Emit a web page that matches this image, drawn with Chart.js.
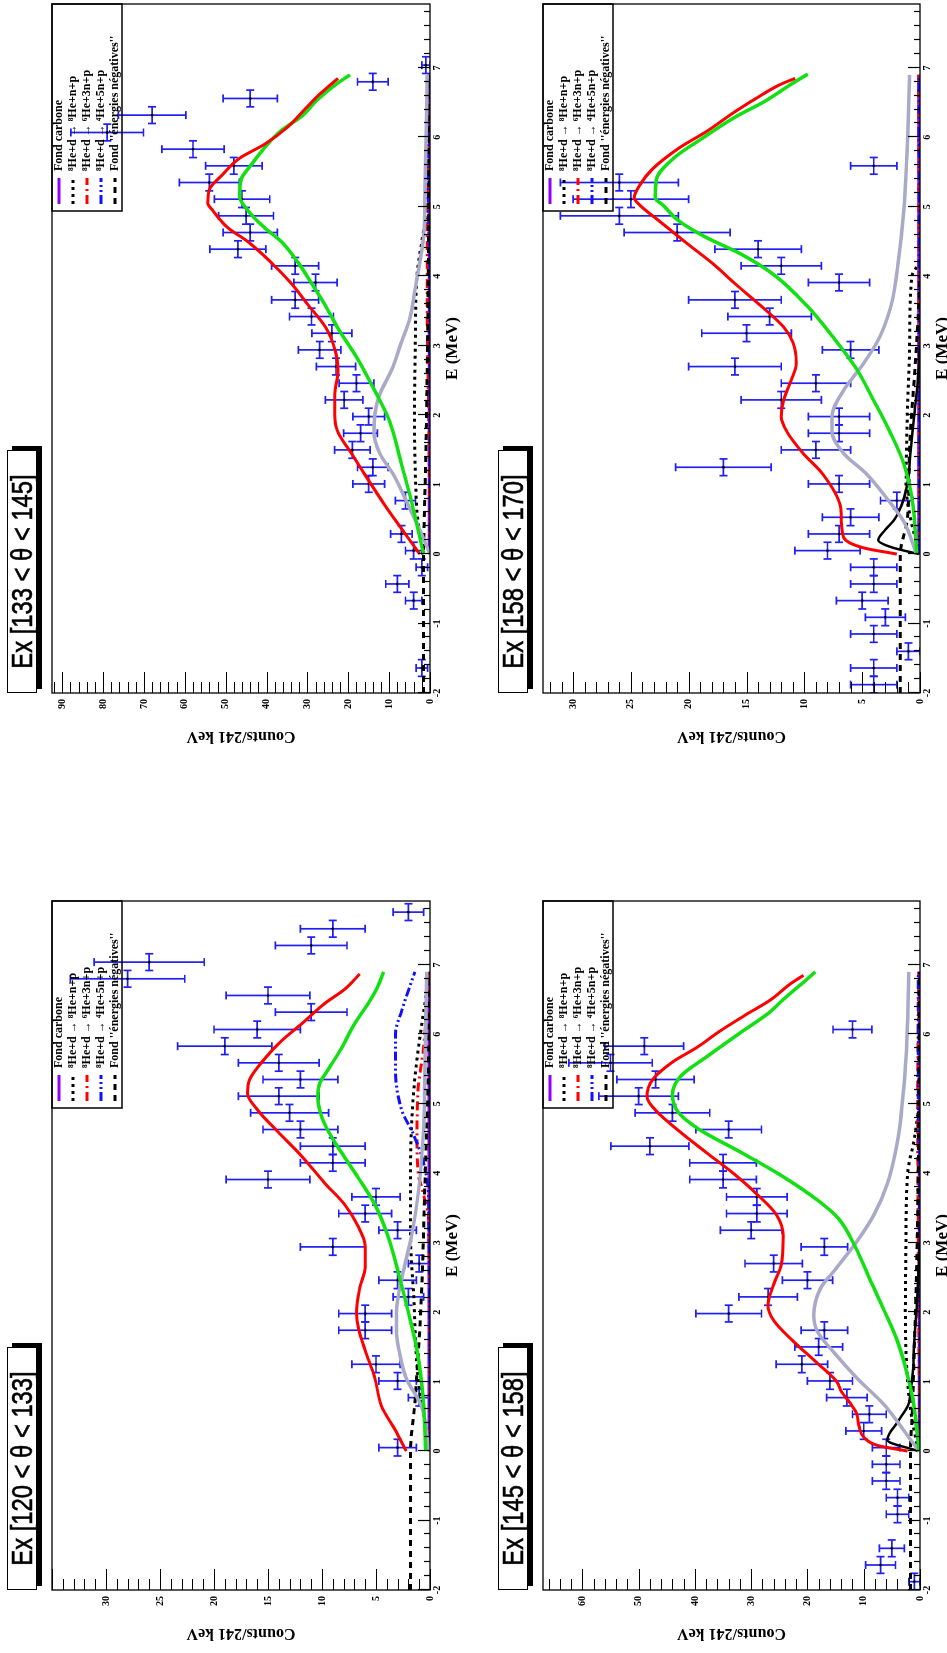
<!DOCTYPE html>
<html>
<head>
<meta charset="utf-8">
<script src="https://cdn.jsdelivr.net/npm/chart.js@4.4.0/dist/chart.umd.min.js"></script>
<style>
html, body { margin: 0; padding: 0; background: #fff; width: 947px; height: 1653px; overflow: hidden; }
#land { position: absolute; left: 0; top: 0; width: 1653px; height: 947px; transform-origin: 0 0; transform: translateY(1653px) rotate(-90deg); }
canvas { position: absolute; }
.title { position: absolute; width: 241px; height: 28px; border: 1px solid #000; background: #fff; box-shadow: 4px 5px 0 #000;
  font-family: "Liberation Sans", Arial, sans-serif; font-size: 29px; line-height: 29px; text-align: center; white-space: nowrap; overflow: hidden;
  -webkit-text-stroke: 0.6px #000; }
.title span { display: inline-block; transform: scaleX(0.82); }
</style>
</head>
<body>
<div id="land"></div>
<script>
// titres des 4 fenetres angulaires
const titles = ['Ex [120 < θ < 133]', 'Ex [133 < θ < 145]', 'Ex [145 < θ < 158]', 'Ex [158 < θ < 170]'];
const legendLabels = ['Fond carbone', '⁸He+d → ⁸He+n+p', '⁸He+d → ⁶He+3n+p', '⁸He+d → ⁴He+5n+p', "Fond ''énergies négatives''"];
const energyTicks = [-2, -1, 0, 1, 2, 3, 4, 5, 6, 7];
const countTicks_120_133 = [0, 5, 10, 15, 20, 25, 30];
const countTicks_133_145 = [0, 10, 20, 30, 40, 50, 60, 70, 80, 90];
const countTicks_145_158 = [0, 10, 20, 30, 40, 50, 60];
const countTicks_158_170 = [0, 5, 10, 15, 20, 25, 30];

// donnees (centre du bin en MeV, coups)
const energies_120_133 = [0.05, 0.77, 1.01, 1.25, 1.74, 1.98, 2.22, 2.46, 2.70, 2.94, 3.18, 3.42, 3.66, 3.91, 4.15, 4.39, 4.63, 4.87, 5.11, 5.35, 5.59, 5.83, 6.07, 6.32, 6.56, 6.80, 7.04, 7.28, 7.52, 7.76];
const counts_120_133 = [3, 1, 3, 5, 6, 6, 2, 3, 1, 9, 3, 6, 5, 15, 9, 9, 12, 13, 14, 12, 14, 19, 16, 11, 15, 28, 26, 11, 9, 2];
const energies_133_145 = [-1.64, -0.67, -0.43, -0.19, 0.05, 0.29, 0.77, 1.01, 1.25, 1.50, 1.74, 1.98, 2.22, 2.46, 2.70, 2.94, 3.18, 3.42, 3.66, 3.91, 4.15, 4.39, 4.63, 4.87, 5.11, 5.35, 5.59, 5.83, 6.07, 6.32, 6.56, 6.80, 7.04];
const counts_133_145 = [2, 4, 8, 2, 4, 7, 6, 15, 14, 19, 17, 15, 21, 18, 23, 27, 24, 29, 33, 28, 33, 47, 44, 45, 46, 54, 48, 58, 79, 68, 44, 14, 1];
const energies_145_158 = [-1.88, -1.64, -1.40, -0.91, -0.67, -0.43, -0.19, 0.05, 0.29, 0.53, 0.77, 1.01, 1.25, 1.50, 1.74, 1.98, 2.22, 2.46, 2.70, 2.94, 3.18, 3.42, 3.66, 3.91, 4.15, 4.39, 4.63, 4.87, 5.11, 5.35, 5.59, 5.83, 6.07];
const counts_145_158 = [1, 7, 5, 4, 4, 6, 6, 6, 10, 9, 13, 16, 21, 18, 17, 34, 27, 20, 26, 17, 30, 29, 29, 35, 35, 48, 34, 44, 50, 47, 55, 49, 12];
const energies_158_170 = [-1.88, -1.64, -1.40, -1.15, -0.91, -0.67, -0.43, -0.19, 0.05, 0.29, 0.53, 0.77, 1.01, 1.25, 1.50, 1.74, 1.98, 2.22, 2.46, 2.70, 2.94, 3.18, 3.42, 3.66, 3.91, 4.15, 4.39, 4.63, 4.87, 5.11, 5.35, 5.59];
const counts_158_170 = [4, 4, 1, 4, 3, 5, 4, 4, 8, 7, 6, 2, 7, 17, 9, 7, 7, 12, 9, 16, 6, 15, 13, 16, 7, 12, 14, 21, 26, 25, 26, 4];

// courbes [E, coups]
const total_120_133 = [[0,2.2],[0.3,3.2],[0.65,4.5],[1.05,5.1],[1.45,6],[1.75,6.6],[2.0,6.8],[2.35,6.5],[2.65,6.0],[2.95,6.0],[3.25,6.7],[3.55,7.9],[3.85,9.7],[4.25,11.9],[4.6,14.1],[4.9,15.9],[5.15,16.9],[5.35,16.7],[5.65,15.3],[5.9,13.8],[6.15,11.9],[6.45,9.7],[6.65,7.9],[6.87,6.5]];
const green_120_133 = [[0,0.4],[0.7,0.6],[1.45,1.2],[2.0,2.0],[2.55,2.9],[3.1,3.9],[3.55,5.1],[3.95,6.7],[4.3,8.2],[4.6,9.4],[4.85,10.1],[5.1,10.4],[5.3,10.2],[5.5,9.4],[5.8,8.2],[6.15,7.0],[6.45,5.7],[6.7,4.8],[6.9,4.3]];
const gray_120_133 = [[0,0.1],[0.65,0.8],[1.05,2.2],[1.4,2.8],[1.7,3.1],[2.0,3.1],[2.5,2.6],[3.1,1.7],[3.7,1.1],[4.6,0.6],[5.2,0.5],[6.9,0.3]];
const nnp_120_133 = [[0,0],[1.05,1.1],[2.2,1.5],[3.1,1.8],[4.1,1.8],[5.2,1.5],[6.0,0.9],[6.75,0.15],[6.9,0]];
const he6_120_133 = [[0,0],[3.3,0.1],[3.7,0.6],[4.0,1.1],[4.5,1.2],[5.2,1.1],[5.8,0.6],[6.7,0.15],[6.9,0]];
const he4_120_133 = [[0,0],[3.7,0.15],[4.15,0.6],[4.55,1.5],[4.9,2.6],[5.5,3.2],[6.0,3.2],[6.35,2.6],[6.9,1.4]];
const negE_120_133 = [[-2,1.8],[0,1.8],[0.7,1.4],[2.2,0.8],[3.7,0.5],[5.2,0.2],[6.9,0]];
const carbone_120_133 = [[0,0.1],[6.9,0.1]];

const total_133_145 = [[0,2.5],[0.4,7.4],[0.7,11],[1.15,16],[1.45,19.2],[1.75,22.5],[2.0,23.3],[2.3,23.3],[2.65,22.5],[2.95,23.3],[3.25,25.4],[3.6,30],[3.9,34],[4.2,38.9],[4.5,44.6],[4.7,49.5],[4.95,53.2],[5.05,54.4],[5.25,54],[5.45,51],[5.7,46.6],[5.9,40.5],[6.15,34.8],[6.4,30.7],[6.6,27.4],[6.85,22.5]];
const green_133_145 = [[0,1.6],[0.75,4.5],[1.3,7],[1.9,9.8],[2.35,13.5],[2.8,17.6],[3.25,22.5],[3.6,25.8],[3.9,29],[4.2,32.3],[4.5,36.4],[4.7,40.5],[4.95,44.6],[5.15,46.6],[5.4,46.2],[5.6,43.8],[5.85,40.5],[6.1,36.4],[6.3,31.5],[6.55,27.4],[6.75,23.3],[6.9,19.6]];
const gray_133_145 = [[0,0],[0.4,2.9],[0.75,5.7],[1.15,9],[1.45,12.3],[1.75,13.7],[2.0,13.5],[2.3,12.3],[2.65,9.4],[3.05,7],[3.4,4.9],[3.8,3.7],[4.2,2.5],[4.55,1.6],[5.3,1.2],[6.45,0.8],[6.9,0.7]];
const nnp_133_145 = [[0,1.5],[0.5,3],[1,3.5],[2,3.8],[3,3.6],[4,3.2],[4.5,2],[5,0.5],[5.2,0]];
const he6_133_145 = [[0,0],[2,0.3],[3,0.6],[4,0.7],[5,0.6],[6,0.3],[6.9,0.1]];
const he4_133_145 = [[0,0],[4,0.1],[5,0.4],[6,0.6],[6.9,0.4]];
const negE_133_145 = [[-2,1.6],[0,1.6],[0.5,1.4],[1.5,1.0],[3,0.6],[5,0.3],[6.9,0.1]];
const carbone_133_145 = [[0,0.2],[6.9,0.2]];

const total_145_158 = [[0,2.2],[0.08,7.5],[0.2,10],[0.35,10.8],[0.55,11.3],[0.7,12.5],[0.86,14],[1.0,14.8],[1.27,18.3],[1.58,22.5],[1.88,26],[2.1,27],[2.4,26],[2.7,24.6],[3.1,24.3],[3.4,25.5],[3.7,29],[4.0,33.2],[4.3,38],[4.6,42.7],[4.9,46.9],[5.1,48.5],[5.35,47.5],[5.6,44],[5.82,39.5],[6.05,35.5],[6.28,31],[6.5,26.5],[6.73,23],[6.85,20.7]];
const green_145_158 = [[0,0.2],[0.67,1.1],[1.12,2.3],[1.58,4],[2.03,6.4],[2.49,9.0],[2.94,11.5],[3.35,14.5],[3.6,18],[3.97,24.7],[4.3,31.8],[4.64,39.4],[4.88,43],[5.14,44],[5.4,42.5],[5.69,37.7],[6.03,31.8],[6.3,27],[6.51,24.2],[6.73,21],[6.9,18.6]];
const gray_145_158 = [[0,0.2],[0.3,2.9],[0.67,6.4],[1.05,11.2],[1.43,15.4],[1.73,18.3],[1.96,18.9],[2.34,17.7],[2.64,14.8],[3.02,11.2],[3.4,8.2],[3.85,5.8],[4.46,4.0],[5.22,2.9],[5.97,2.3],[6.9,2.0]];
const nnp_145_158 = [[0,0.3],[0.5,1.5],[1,2.2],[2,2.6],[3,2.5],[4,2.2],[4.5,1],[5,0.2],[5.2,0]];
const he6_145_158 = [[0,0],[3,0.3],[5,0.4],[6.9,0.2]];
const he4_145_158 = [[0,0],[4,0.1],[5,0.3],[6.9,0.3]];
const negE_145_158 = [[-2,1.7],[0,1.7],[0.5,1.4],[1.5,1.0],[3,0.5],[5,0.2],[6.9,0.1]];
const peak_145_158 = [[0,0.3],[0.16,5.8],[0.43,3.9],[0.66,2.1],[0.9,1.6],[1.2,1.2],[1.45,1.1],[2.2,0.5],[3,0]];
const carbone_145_158 = [[0,0.15],[6.9,0.15]];

const total_158_170 = [[0,2],[0.09,4.9],[0.24,6.6],[0.47,6.8],[0.7,6.9],[1.15,8.4],[1.45,10.1],[1.76,11.5],[1.98,12],[2.21,11.8],[2.52,11.1],[2.74,10.7],[3.05,11],[3.27,11.8],[3.58,13.8],[3.88,15.9],[4.18,17.9],[4.48,20.2],[4.79,22.5],[5.02,24.2],[5.13,24.7],[5.32,24.2],[5.55,23.1],[5.85,20.8],[6.08,18.5],[6.38,15.9],[6.6,13.8],[6.76,12.1],[6.85,10.8]];
const green_158_170 = [[0,0.3],[0.7,0.6],[1.3,1.4],[1.76,2.6],[2.21,4],[2.67,5.5],[3.12,7.5],[3.58,9.8],[4.03,12.7],[4.33,15.6],[4.56,18.5],[4.79,20.8],[5.02,22.2],[5.13,22.9],[5.39,22.8],[5.7,21.3],[6.0,18.7],[6.3,15.9],[6.53,13.3],[6.76,11.2],[6.91,9.7]];
const gray_158_170 = [[0,0.3],[0.47,1.4],[0.81,2.9],[1.15,4.6],[1.45,6.6],[1.76,7.6],[1.98,7.6],[2.36,6.6],[2.74,4.9],[3.12,3.5],[3.58,2.5],[4.18,1.9],[4.94,1.4],[5.7,1.15],[6.9,0.9]];
const nnp_158_170 = [[0,0],[0.5,0.8],[1,1.2],[2,1.1],[3,0.9],[4,0.7],[4.2,0]];
const he6_158_170 = [[0,0.05],[6.9,0.1]];
const he4_158_170 = [[0,0.05],[6.9,0.08]];
const negE_158_170 = [[-2,1.7],[0,1.7],[0.5,1.1],[1.5,0.9],[3,0.3],[4,0]];
const peak_158_170 = [[0,0.1],[0.1,2.5],[0.2,3.6],[0.35,3],[0.5,2.2],[0.7,1.6],[1,1.1],[1.5,0.8],[2,0.5],[2.5,0.2],[3,0]];
const carbone_158_170 = [[0,0.1],[6.9,0.1]];

const styles = {
  total:   { color: '#ff0000', dash: [], width: 3, order: 0 },
  green:   { color: '#12e012', dash: [], width: 3.5, order: 1 },
  gray:    { color: '#a9a9c8', dash: [], width: 3.5, order: 2 },
  peak:    { color: '#000000', dash: [], width: 2.5, order: 3 },
  negE:    { color: '#000000', dash: [6, 5], width: 3, order: 4 },
  he4:     { color: '#1010ff', dash: [9, 3, 2, 3, 2, 3], width: 3, order: 5 },
  he6:     { color: '#ff0000', dash: [9, 4, 2, 4], width: 3, order: 6 },
  nnp:     { color: '#000000', dash: [3, 4], width: 3, order: 7 },
  carbone: { color: '#8f00ff', dash: [], width: 3, order: 8 }
};
const legendKeys = ['carbone', 'nnp', 'he6', 'he4', 'negE'];

const panels = [
  { title: titles[0], x: 0, y: 0, w: 826, h: 473, frame: [63, 52, 752, 430], yMax: 35, minor: 1, ticks: countTicks_120_133,
    energies: energies_120_133, counts: counts_120_133,
    curves: { carbone: carbone_120_133, nnp: nnp_120_133, he6: he6_120_133, he4: he4_120_133, negE: negE_120_133, gray: gray_120_133, green: green_120_133, total: total_120_133 } },
  { title: titles[1], x: 826, y: 0, w: 827, h: 473, frame: [134, 52, 824, 430], yMax: 92.5, minor: 2, ticks: countTicks_133_145,
    energies: energies_133_145, counts: counts_133_145,
    curves: { carbone: carbone_133_145, nnp: nnp_133_145, he6: he6_133_145, he4: he4_133_145, negE: negE_133_145, gray: gray_133_145, green: green_133_145, total: total_133_145 } },
  { title: titles[2], x: 0, y: 473, w: 826, h: 474, frame: [63, 70, 752, 447], yMax: 67, minor: 2, ticks: countTicks_145_158,
    energies: energies_145_158, counts: counts_145_158,
    curves: { carbone: carbone_145_158, nnp: nnp_145_158, he6: he6_145_158, he4: he4_145_158, negE: negE_145_158, peak: peak_145_158, gray: gray_145_158, green: green_145_158, total: total_145_158 } },
  { title: titles[3], x: 826, y: 473, w: 827, h: 474, frame: [134, 70, 824, 447], yMax: 32.6, minor: 1, ticks: countTicks_158_170,
    energies: energies_158_170, counts: counts_158_170,
    curves: { carbone: carbone_158_170, nnp: nnp_158_170, he6: he6_158_170, he4: he4_158_170, negE: negE_158_170, peak: peak_158_170, gray: gray_158_170, green: green_158_170, total: total_158_170 } }
];

const binHalf = 0.1205;
const serif = '"Liberation Serif", "Times New Roman", serif';

function rootPlugin(p) {
  return {
    id: 'rootStyle',
    // barres d'erreur sous les courbes
    beforeDatasetsDraw(chart) {
      const { ctx, chartArea: a, scales: { x, y } } = chart;
      const pts = chart.data.datasets[chart.data.datasets.length - 1].data;
      ctx.save();
      ctx.beginPath();
      ctx.rect(a.left, a.top, a.width, a.height);
      ctx.clip();
      ctx.strokeStyle = '#2020f0';
      ctx.lineWidth = 1.7;
      pts.forEach(pt => {
        const err = Math.sqrt(pt.y);
        const px = x.getPixelForValue(pt.x), py = y.getPixelForValue(pt.y);
        const x0 = x.getPixelForValue(pt.x - binHalf), x1 = x.getPixelForValue(pt.x + binHalf);
        const y0 = y.getPixelForValue(pt.y - err), y1 = y.getPixelForValue(pt.y + err);
        ctx.beginPath();
        ctx.moveTo(x0, py); ctx.lineTo(x1, py);
        ctx.moveTo(px, y0); ctx.lineTo(px, y1);
        ctx.moveTo(x0, py - 4); ctx.lineTo(x0, py + 4);
        ctx.moveTo(x1, py - 4); ctx.lineTo(x1, py + 4);
        ctx.moveTo(px - 4, y0); ctx.lineTo(px + 4, y0);
        ctx.moveTo(px - 4, y1); ctx.lineTo(px + 4, y1);
        ctx.stroke();
      });
      ctx.restore();
    },
    afterDraw(chart) {
      const { ctx, chartArea: a, scales: { x, y } } = chart;
      ctx.save();
      ctx.strokeStyle = '#000';
      ctx.lineWidth = 1.3;
      ctx.strokeRect(a.left, a.top, a.width, a.height);

      // graduations vers l'interieur
      ctx.beginPath();
      for (let k = 0; ; k++) {
        const v = -2 + k * 0.2;
        if (v > x.max + 1e-6) break;
        const px = Math.round(x.getPixelForValue(v)) + 0.5;
        const len = k % 5 === 0 ? 12 : 6;
        ctx.moveTo(px, a.bottom); ctx.lineTo(px, a.bottom - len);
      }
      for (let k = 0; ; k++) {
        const v = k * p.minor;
        if (v > y.max + 1e-6) break;
        const py = Math.round(y.getPixelForValue(v)) + 0.5;
        const len = k % 5 === 0 ? 21 : 11;
        ctx.moveTo(a.left, py); ctx.lineTo(a.left + len, py);
      }
      ctx.lineWidth = 1.2;
      ctx.stroke();

      ctx.fillStyle = '#000';
      ctx.font = 'bold 10px ' + serif;
      ctx.textAlign = 'center';
      ctx.textBaseline = 'top';
      energyTicks.forEach(v => ctx.fillText(String(v), x.getPixelForValue(v), a.bottom + 2));
      ctx.textAlign = 'right';
      ctx.textBaseline = 'middle';
      p.ticks.forEach(v => ctx.fillText(String(v), a.left - 6, y.getPixelForValue(v)));

      ctx.font = 'bold 17px ' + serif;
      ctx.textAlign = 'center';
      ctx.fillText('E (MeV)', (a.left + a.right) / 2, a.bottom + 23);
      ctx.save();
      ctx.translate(a.left - 43, (a.top + a.bottom) / 2);
      ctx.rotate(-Math.PI / 2);
      ctx.font = 'bold 16px ' + serif;
      ctx.fillText('Counts/241 keV', 0, 0);
      ctx.restore();

      // legende
      const lw = 207, lh = 70, lx = a.right - lw, ly = a.top;
      ctx.lineWidth = 1.5;
      ctx.strokeRect(lx, ly, lw, lh);
      ctx.font = 'bold 12px ' + serif;
      ctx.textAlign = 'left';
      legendKeys.forEach((key, i) => {
        const s = styles[key];
        const yy = ly + 7 + i * 14;
        ctx.beginPath();
        ctx.setLineDash(s.dash);
        ctx.strokeStyle = s.color;
        ctx.lineWidth = 3;
        ctx.moveTo(lx + 7, yy); ctx.lineTo(lx + 33, yy);
        ctx.stroke();
        ctx.setLineDash([]);
        ctx.fillText(legendLabels[i], lx + 40, yy);
      });
      ctx.restore();
    }
  };
}

const land = document.getElementById('land');

panels.forEach(p => {
  const canvas = document.createElement('canvas');
  canvas.width = p.w; canvas.height = p.h;
  canvas.style.left = p.x + 'px'; canvas.style.top = p.y + 'px';
  canvas.style.width = p.w + 'px'; canvas.style.height = p.h + 'px';
  land.appendChild(canvas);

  const box = document.createElement('div');
  box.className = 'title';
  box.style.left = (p.x + p.frame[0]) + 'px';
  box.style.top = (p.y === 0 ? 7 : p.y + 25) + 'px';
  box.innerHTML = '<span></span>';
  box.firstChild.textContent = p.title;
  land.appendChild(box);

  const datasets = Object.keys(p.curves).map(key => ({
    type: 'scatter',
    showLine: true,
    data: p.curves[key].map(d => ({ x: d[0], y: d[1] })),
    borderColor: styles[key].color,
    borderDash: styles[key].dash,
    borderWidth: styles[key].width,
    cubicInterpolationMode: 'monotone',
    pointRadius: 0,
    order: styles[key].order
  }));
  // points de mesure (le marqueur central), les barres d'erreur sont tracees par le plugin
  datasets.push({
    type: 'scatter',
    data: p.energies.map((e, i) => ({ x: e, y: p.counts[i] })),
    pointRadius: 1.3,
    pointBackgroundColor: '#000',
    pointBorderWidth: 0,
    order: 10
  });

  const [fl, ft, fr, fb] = p.frame;
  new Chart(canvas.getContext('2d'), {
    type: 'scatter',
    data: { datasets: datasets },
    options: {
      responsive: false,
      animation: false,
      events: [],
      layout: { padding: { left: 0, top: ft, right: p.w - fr, bottom: 0 } },
      scales: {
        x: { type: 'linear', min: -2, max: 7.92, ticks: { display: false }, grid: { display: false }, border: { display: false },
             afterFit: s => { s.height = p.h - fb; } },
        y: { type: 'linear', min: 0, max: p.yMax, ticks: { display: false }, grid: { display: false }, border: { display: false },
             afterFit: s => { s.width = fl; } }
      },
      plugins: { legend: { display: false }, tooltip: { enabled: false } }
    },
    plugins: [rootPlugin(p)]
  });
});
</script>
</body>
</html>
